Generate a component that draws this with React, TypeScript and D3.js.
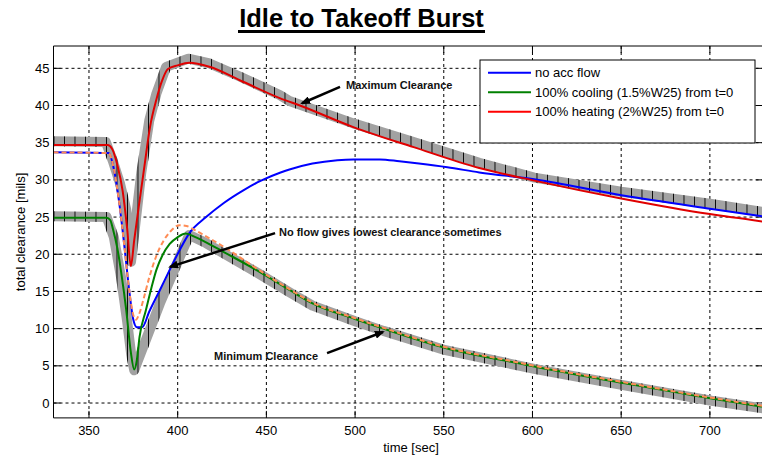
import React from 'react';
import * as d3 from 'd3';

type Pt = [number, number];

const xTicks = [350, 400, 450, 500, 550, 600, 650, 700];
const yTicks = [0, 5, 10, 15, 20, 25, 30, 35, 40, 45];

const noAccFlow: Pt[] = [
  [330, 33.7], [361, 33.6], [364, 31.5], [367, 27], [370, 21], [372.5, 15.5], [375, 11.2], [377, 10.2],
  [380, 10.2], [384, 12.3], [390, 15.2], [395.5, 17.9], [401, 20.5], [406.5, 22.8], [416, 25.0], [426, 26.9],
  [437, 28.6], [447, 29.9], [458, 31.0], [463, 31.4], [476, 32.2], [490, 32.65], [499, 32.75], [514, 32.75],
  [525, 32.5], [536, 32.2], [552, 31.7], [570, 31.0], [601, 30.1], [651, 27.9], [701, 26.1], [730, 25.1],
];

const cooling: Pt[] = [
  [330, 24.9], [360, 24.9], [362, 24.6], [363.5, 23.4], [366, 20.8], [368.5, 17], [371, 12.5], [373.5, 7],
  [375.5, 4.5], [377, 5.8], [378.5, 8.9], [382, 12.4], [385, 15.3], [388, 17.9], [391.5, 19.9], [395.5, 21.4],
  [400, 22.3], [404.5, 22.8], [410, 22.3], [416, 21.6], [426, 20.3], [445, 17.8], [463, 15.2], [476, 13.4],
  [500, 11.3], [516, 10.0], [551, 7.4], [593, 5.3], [601, 4.9], [651, 2.7], [701, 0.6], [730, -0.5],
];

const heating: Pt[] = [
  [330, 34.7], [360.5, 34.7], [363, 34.2], [366, 32], [369, 28.5], [371.5, 23.5], [373.6, 18.4], [375.5, 21.9],
  [378, 26.3], [381, 31.4], [384.4, 37.1], [388, 40.8], [391, 43.2], [394.5, 44.9], [400, 45.4], [406.5, 45.75],
  [418, 45.2], [435, 43.4], [457.5, 41.0], [470, 39.9], [499, 37.1], [533, 34.4], [570, 31.6], [601, 29.9],
  [650, 27.5], [700, 25.4], [730, 24.4],
];

const dashedCase: Pt[] = [
  [330, 33.7], [361, 33.6], [364, 31.5], [367, 27], [370, 21], [372.5, 15.5], [375, 11.8], [376.5, 11.2],
  [378, 11.8], [381, 14.2], [384, 16.9], [388, 19.8], [392, 21.8], [396, 23.1], [401, 23.9], [405, 23.8],
  [410, 23.2], [416, 22.4], [426, 21.0], [445, 18.0], [463, 15.3], [476, 13.5], [500, 11.4], [516, 10.1],
  [551, 7.5], [593, 5.4], [601, 5.0], [651, 2.8], [701, 0.7], [730, -0.4],
];

const maxBand: Pt[] = [
  [328, 35.2], [359.5, 35.1], [363.5, 32.5], [367.5, 29.5], [371, 26], [373.7, 19.0], [379.5, 31], [384, 38],
  [388, 41.6], [393.5, 45.2], [406, 46.3], [418, 45.65], [435, 43.9], [457.5, 41.4], [463, 40.6], [499, 37.6],
  [533, 35.1], [570, 32.3], [601, 30.3], [650, 28.4], [700, 26.8], [732, 25.6],
];

const minBand: Pt[] = [
  [328, 25.1], [360, 25.0], [364, 22.3], [368, 17], [371.5, 11], [373.8, 6.5], [375.5, 4.4], [390, 13.4],
  [406.5, 22.6], [416, 21.5], [426, 20.1], [445, 17.5], [463, 14.9], [476, 13.1], [500, 11.0], [516, 9.7],
  [551, 7.1], [593, 5.0], [601, 4.6], [651, 2.4], [701, 0.3], [732, -0.8],
];

const legendLabels = ['no acc flow', '100% cooling (1.5%W25) from t=0', '100% heating (2%W25) from t=0'];
const legendColors = ['#0000ff', '#008000', '#ff0000'];

const annotations = [
  { text: 'Maximum Clearance', at: [494.9, 42.7] as Pt, anchor: 'start', from: [491.5, 42.5] as Pt, to: [470.1, 40.3] as Pt },
  { text: 'No flow gives lowest clearance sometimes', at: [457.1, 23.0] as Pt, anchor: 'start', from: [454.9, 22.85] as Pt, to: [395.7, 18.3] as Pt },
  { text: 'Minimum Clearance', at: [479.1, 6.3] as Pt, anchor: 'end', from: [484.2, 6.7] as Pt, to: [515.7, 9.55] as Pt },
];

const W = 762, H = 459;
const L = 53.5, R = 763.1, T = 46, B = 417.9;
const FONT = '"Liberation Sans", Arial, Helvetica, sans-serif';

export default function App() {
  const x = d3.scaleLinear().domain([330, 730]).range([L, R]);
  const y = d3.scaleLinear().domain([-2, 48]).range([B, T]);
  const smooth = d3.line<Pt>().x(d => x(d[0])).y(d => y(d[1])).curve(d3.curveMonotoneX);
  const straight = d3.line<Pt>().x(d => x(d[0])).y(d => y(d[1])).curve(d3.curveLinear);
  const clipW = Math.min(R, W) - L;
  const bandW = 10;

  return (
    <svg width={W} height={H} style={{ position: 'absolute', left: 0, top: 0, background: '#fff' }} fontFamily={FONT}>
      <defs>
        <clipPath id="plotclip">
          <rect x={L} y={T} width={clipW} height={B - T} />
        </clipPath>
        <pattern id="ticks" x={L} y={0} width={10.5} height={10} patternUnits="userSpaceOnUse">
          <rect x={0} y={0} width={0.9} height={10} fill="#000" />
        </pattern>
        <mask id="bandmask" maskUnits="userSpaceOnUse" x={0} y={0} width={W} height={H}>
          <path d={straight(maxBand) || ''} fill="none" stroke="#fff" strokeWidth={bandW} strokeLinejoin="round" />
          <path d={straight(minBand) || ''} fill="none" stroke="#fff" strokeWidth={bandW} strokeLinejoin="round" />
        </mask>
        <marker id="arrow" markerWidth={10} markerHeight={8} refX={8} refY={4} orient="auto" markerUnits="userSpaceOnUse">
          <path d="M0,0 L10,4 L0,8 z" fill="#000" />
        </marker>
      </defs>

      <rect x={0} y={0} width={W} height={H} fill="#fff" />

      {/* title */}
      <text x={361.5} y={27} textAnchor="middle" fontSize={25.5} fontWeight="bold" fill="#000">Idle to Takeoff Burst</text>
      <rect x={238} y={30} width={247} height={3} fill="#000" />

      {/* grid */}
      <g stroke="#000" strokeWidth={1} strokeDasharray="3,3">
        {xTicks.map(t => (
          <line key={'gx' + t} x1={x(t)} x2={x(t)} y1={T} y2={B} />
        ))}
        {yTicks.map(v => (
          <line key={'gy' + v} x1={L} x2={Math.min(R, W)} y1={y(v)} y2={y(v)} />
        ))}
      </g>

      {/* ticks */}
      <g stroke="#000" strokeWidth={1}>
        {xTicks.map(t => (
          <g key={'tx' + t}>
            <line x1={x(t)} x2={x(t)} y1={B} y2={B - 7} />
            <line x1={x(t)} x2={x(t)} y1={T} y2={T + 7} />
          </g>
        ))}
        {yTicks.map(v => (
          <g key={'ty' + v}>
            <line x1={L} x2={L + 7} y1={y(v)} y2={y(v)} />
            <line x1={R} x2={R - 7} y1={y(v)} y2={y(v)} />
          </g>
        ))}
      </g>

      {/* bands */}
      <g clipPath="url(#plotclip)">
        <path d={straight(maxBand) || ''} fill="none" stroke="#a2a2a2" strokeWidth={bandW} strokeLinejoin="round" />
        <path d={straight(minBand) || ''} fill="none" stroke="#a2a2a2" strokeWidth={bandW} strokeLinejoin="round" />
        <rect x={L} y={T} width={clipW} height={B - T} fill="url(#ticks)" mask="url(#bandmask)" />
      </g>

      {/* series */}
      <g clipPath="url(#plotclip)" fill="none" strokeLinejoin="round">
        <path d={smooth(noAccFlow) || ''} stroke="#0000ff" strokeWidth={2} />
        <path d={smooth(cooling) || ''} stroke="#008000" strokeWidth={2} />
        <path d={smooth(dashedCase) || ''} stroke="#ff8c55" strokeWidth={2} strokeDasharray="5,3" />
        <path d={smooth(heating) || ''} stroke="#e00000" strokeWidth={2} />
      </g>

      {/* frame */}
      <g stroke="#000" strokeWidth={1} fill="none">
        <line x1={L} x2={L} y1={T} y2={B} />
        <line x1={L} x2={W} y1={B} y2={B} />
        <line x1={L} x2={W} y1={T} y2={T} />
        <line x1={R} x2={R} y1={T} y2={B} />
      </g>

      {/* tick labels */}
      <g fontSize={13} fill="#000">
        {xTicks.map(t => (
          <text key={'lx' + t} x={x(t)} y={435} textAnchor="middle">{t}</text>
        ))}
        {yTicks.map(v => (
          <text key={'ly' + v} x={L - 4} y={y(v)} textAnchor="end" dominantBaseline="central">{v}</text>
        ))}
      </g>

      {/* axis labels */}
      <text x={411} y={452} textAnchor="middle" fontSize={13} fill="#000">time [sec]</text>
      <text transform={`translate(20,${(T + B) / 2}) rotate(-90)`} textAnchor="middle" dominantBaseline="central" fontSize={13} fill="#000">total clearance [mils]</text>

      {/* annotations */}
      {annotations.map((a, i) => (
        <g key={'an' + i}>
          <line x1={x(a.from[0])} y1={y(a.from[1])} x2={x(a.to[0])} y2={y(a.to[1])} stroke="#000" strokeWidth={2.5} markerEnd="url(#arrow)" />
          <text x={x(a.at[0])} y={y(a.at[1])} textAnchor={a.anchor as any} dominantBaseline="central" fontSize={11} fontWeight="bold" fill="#111">{a.text}</text>
        </g>
      ))}

      {/* legend */}
      <g>
        <rect x={480} y={60} width={275} height={83} fill="#fff" stroke="#000" strokeWidth={1} />
        {legendLabels.map((lab, i) => (
          <g key={'lg' + i}>
            <line x1={488} x2={531} y1={72.7 + i * 19.5} y2={72.7 + i * 19.5} stroke={legendColors[i]} strokeWidth={2} />
            <text x={535} y={72.7 + i * 19.5} dominantBaseline="central" fontSize={13} fill="#000">{lab}</text>
          </g>
        ))}
      </g>
    </svg>
  );
}
